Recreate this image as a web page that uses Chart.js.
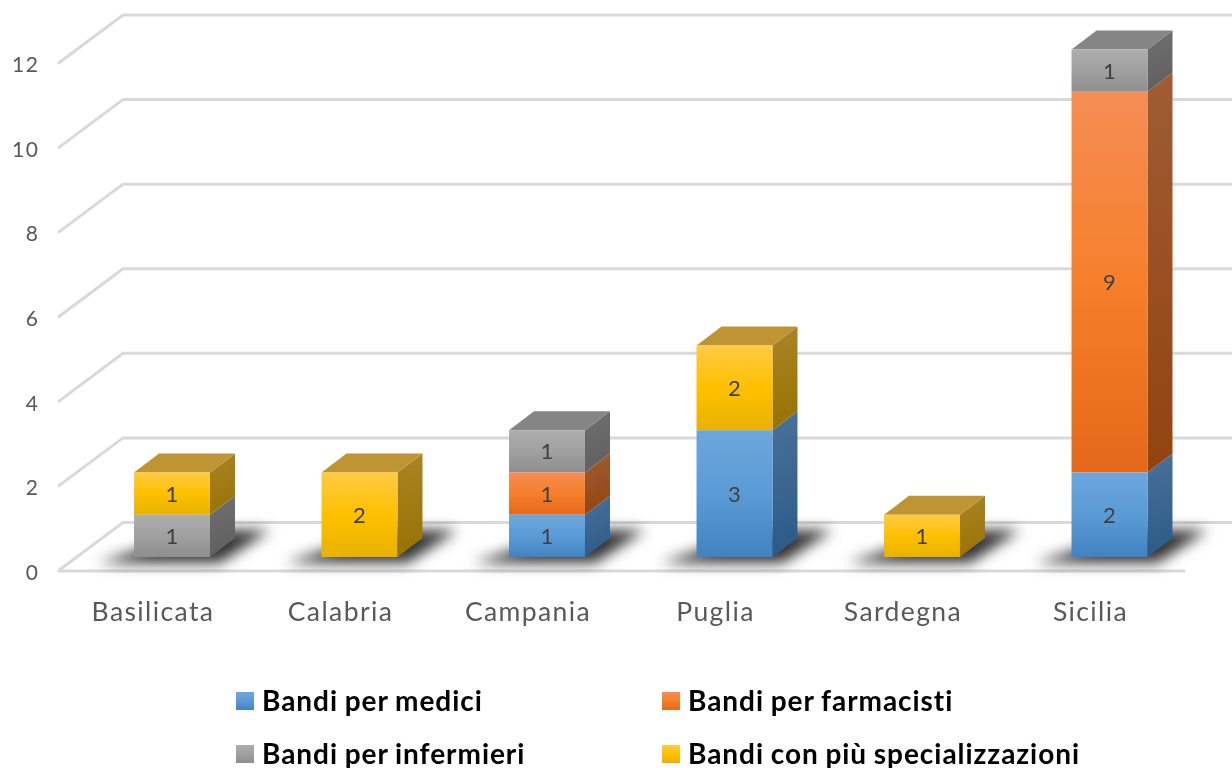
<!DOCTYPE html>
<html>
<head>
<meta charset="utf-8">
<title>Bandi per regione</title>
<script src="https://cdn.jsdelivr.net/npm/chart.js@4/dist/chart.umd.js"></script>
<style>
    html, body { margin: 0; padding: 0; background: #fff; overflow: hidden; }
    #wrap { position: relative; width: 1232px; height: 768px; }
    .legend-item { position: absolute; font: bold 28px Lato, sans-serif; color: #000; white-space: nowrap; line-height: 32px; letter-spacing: 0.95px; word-spacing: -1px; }
    .legend-item i { position: absolute; width: 18px; height: 18px; top: 8px; left: -26px; }
</style>
</head>
<body>
<div id="wrap">
    <canvas id="chart" width="1232" height="768"></canvas>
</div>
<script>
const regions = ['Basilicata', 'Calabria', 'Campania', 'Puglia', 'Sardegna', 'Sicilia'];
const seriesNames = ['Bandi per medici', 'Bandi per farmacisti', 'Bandi per infermieri', 'Bandi con più specializzazioni'];
const medici = [0, 0, 1, 3, 0, 2];
const farmacisti = [0, 0, 1, 0, 0, 9];
const infermieri = [1, 0, 1, 0, 0, 1];
const specializzazioni = [1, 2, 0, 2, 1, 0];
const seriesValues = [medici, farmacisti, infermieri, specializzazioni];

// front face top/mid/bottom, side face top/bottom, top face
const palette = [
    { front: ['#6da6de', '#5b9bd5', '#4282c2'], side: ['#4a7199', '#2a5a88'], top: '#4a7199' },
    { front: ['#f58d55', '#f67f2b', '#e5681a'], side: ['#a05c34', '#92430f'], top: '#b0653a' },
    { front: ['#aeaeae', '#a0a0a0', '#8e8e8e'], side: ['#707070', '#5e5e5e'], top: '#858585' },
    { front: ['#ffcb44', '#ffc000', '#e8b200'], side: ['#ab8428', '#967200'], top: '#bf9534' }
];

// 3D look: how far the back wall sits from the bars and from the front edge
const barDepthX = 25, barDepthY = 19;
const wallX = 123, wallRight = 1232, wallDrop = 34.5;
const floorX = 58, floorRight = 1185, floorDrop = 14;

function segmentGradient(ctx, top, bottom, colors) {
    const g = ctx.createLinearGradient(0, top, 0, bottom);
    colors.forEach((c, i) => g.addColorStop(i / (colors.length - 1), c));
    return g;
}

// gradient goes over each stacked segment, not over the whole bar
function frontFill(context) {
    const chart = context.chart;
    const colors = palette[context.datasetIndex].front;
    if (!chart.chartArea || context.dataIndex === undefined) return colors[1];
    let base = 0;
    for (let i = 0; i < context.datasetIndex; i++) base += seriesValues[i][context.dataIndex];
    const value = seriesValues[context.datasetIndex][context.dataIndex];
    const y = chart.scales.y;
    return segmentGradient(chart.ctx, y.getPixelForValue(base + value), y.getPixelForValue(base), colors);
}

const depthPlugin = {
    id: 'depth',
    beforeDraw(chart) {
        chart.ctx.letterSpacing = '1.4px';
    },
    beforeDatasetsDraw(chart) {
        const ctx = chart.ctx;
        const y = chart.scales.y;

        // grid lines: diagonal on the left wall and a line on the back wall
        ctx.save();
        ctx.strokeStyle = '#d9d9d9';
        ctx.lineWidth = 3;
        y.ticks.forEach(t => {
            const py = y.getPixelForValue(t.value);
            ctx.beginPath();
            ctx.moveTo(floorX, py + floorDrop);
            ctx.lineTo(wallX, py - wallDrop);
            ctx.lineTo(wallRight, py - wallDrop);
            ctx.stroke();
        });
        const floorY = y.getPixelForValue(0) + floorDrop;
        ctx.beginPath();
        ctx.moveTo(floorX, floorY);
        ctx.lineTo(floorRight, floorY);
        ctx.stroke();
        ctx.restore();

        // shadows on the floor
        const base0 = chart.getDatasetMeta(0).data;
        ctx.save();
        ctx.filter = 'blur(7px)';
        ctx.fillStyle = '#333333';
        base0.forEach(el => {
            const l = el.x - el.width / 2, r = el.x + el.width / 2, b = y.getPixelForValue(0);
            ctx.beginPath();
            ctx.moveTo(l - 36, b + 6);
            ctx.lineTo(r + 10, b + 6);
            ctx.lineTo(r + 60, b - 27);
            ctx.lineTo(r - 10, b - 27);
            ctx.closePath();
            ctx.fill();
        });
        ctx.restore();

        // side and top faces of each segment
        ctx.save();
        regions.forEach((name, idx) => {
            let topSet = -1;
            seriesValues.forEach((vals, s) => {
                if (!vals[idx]) return;
                topSet = s;
                const el = chart.getDatasetMeta(s).data[idx];
                const r = el.x + el.width / 2;
                const g = ctx.createLinearGradient(r, el.y - barDepthY, r + barDepthX, el.base);
                g.addColorStop(0, palette[s].side[0]);
                g.addColorStop(1, palette[s].side[1]);
                ctx.fillStyle = g;
                ctx.beginPath();
                ctx.moveTo(r, el.y);
                ctx.lineTo(r + barDepthX, el.y - barDepthY);
                ctx.lineTo(r + barDepthX, el.base - barDepthY);
                ctx.lineTo(r, el.base);
                ctx.closePath();
                ctx.fill();
            });
            if (topSet < 0) return;
            const el = chart.getDatasetMeta(topSet).data[idx];
            const l = el.x - el.width / 2, r = el.x + el.width / 2;
            ctx.fillStyle = palette[topSet].top;
            ctx.beginPath();
            ctx.moveTo(l, el.y);
            ctx.lineTo(l + barDepthX, el.y - barDepthY);
            ctx.lineTo(r + barDepthX, el.y - barDepthY);
            ctx.lineTo(r, el.y);
            ctx.closePath();
            ctx.fill();
        });
        ctx.restore();
    },
    afterDatasetsDraw(chart) {
        // value labels in the middle of each segment
        const ctx = chart.ctx;
        ctx.save();
        ctx.letterSpacing = '0px';
        ctx.font = '22px Lato';
        ctx.fillStyle = '#404040';
        ctx.textAlign = 'center';
        ctx.textBaseline = 'middle';
        seriesValues.forEach((vals, s) => {
            chart.getDatasetMeta(s).data.forEach((el, i) => {
                if (!vals[i]) return;
                ctx.fillText(vals[i], el.x, (el.y + el.base) / 2 + 1);
            });
        });
        ctx.restore();
    }
};

const chart = new Chart(document.getElementById('chart'), {
    type: 'bar',
    data: {
        labels: regions,
        datasets: seriesNames.map((name, s) => ({
            label: name,
            data: seriesValues[s],
            backgroundColor: frontFill,
            borderWidth: 0,
            barPercentage: 0.405,
            categoryPercentage: 1
        }))
    },
    options: {
        responsive: false,
        animation: false,
        events: [],
        layout: { padding: { top: 49.5, right: 28.75, bottom: 141, left: 0 } },
        plugins: { legend: { display: false }, tooltip: { enabled: false } },
        scales: {
            x: {
                stacked: true,
                grid: { display: false },
                border: { display: false },
                afterFit(scale) { scale.height = 70; },
                ticks: { color: '#595959', font: { family: 'Lato', size: 26.5 }, padding: 32, maxRotation: 0, labelOffset: -19 }
            },
            y: {
                stacked: true,
                min: 0,
                max: 12,
                // tickLength only pushes the labels left, ticks.padding would squeeze the scale
                grid: { display: false, drawTicks: true, tickLength: 39 },
                border: { display: false },
                afterFit(scale) { scale.width = 78.25; },
                ticks: { stepSize: 2, color: '#595959', font: { family: 'Lato', size: 21 }, padding: 0, labelOffset: 16 }
            }
        }
    },
    plugins: [depthPlugin]
});

// legend in two columns, built from the chart's datasets
const legendPos = [[262, 684], [688, 684], [262, 737], [688, 737]];
chart.data.datasets.forEach((ds, s) => {
    const item = document.createElement('div');
    item.className = 'legend-item';
    item.style.left = legendPos[s][0] + 'px';
    item.style.top = legendPos[s][1] + 'px';
    item.textContent = ds.label;
    const box = document.createElement('i');
    box.style.background = 'linear-gradient(' + palette[s].front.join(',') + ')';
    item.prepend(box);
    document.getElementById('wrap').appendChild(item);
});
</script>
</body>
</html>
